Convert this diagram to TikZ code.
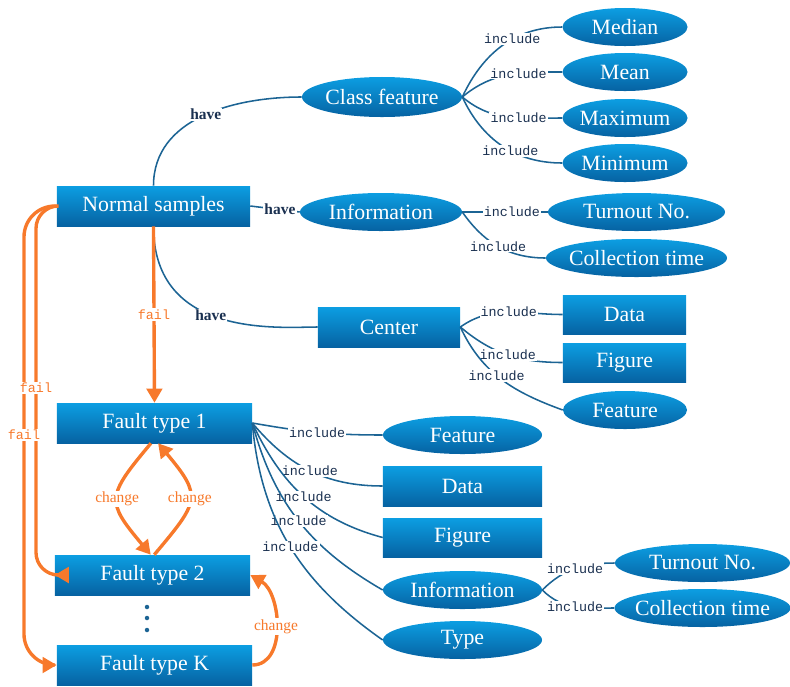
\documentclass[tikz,border=0pt]{standalone}
\usepackage{fontspec}
\setmainfont{LiberationSerif}[Extension=.ttf, UprightFont=*-Regular, BoldFont=*-Bold]
\newfontfamily\incfont{LiberationMono}[Extension=.ttf, UprightFont=*-Regular, BoldFont=*-Bold]
\usetikzlibrary{shapes.geometric,arrows.meta}
\definecolor{boxtop}{RGB}{12,158,226}
\definecolor{boxbot}{RGB}{6,98,162}
\definecolor{linkblue}{RGB}{28,100,148}
\definecolor{inkblue}{RGB}{26,48,80}
\definecolor{flame}{RGB}{247,121,43}
\newcommand{\ovaltext}[1]{\makebox[0pt]{#1}}

\begin{document}
\begin{tikzpicture}[x=0.025cm,y=0.025cm,
  box/.style={rectangle, top color=boxtop, bottom color=boxbot, text=white,
    font=\fontsize{15.5}{18}\selectfont, minimum height=1cm, inner sep=0pt},
  oval/.style={ellipse, top color=boxtop, bottom color=boxbot, text=white,
    font=\fontsize{15.5}{18}\selectfont, minimum height=0.95cm, inner sep=0pt},
  link/.style={draw=linkblue, line width=1.1pt},
  incl/.style={font=\incfont\fontsize{9.5}{11}\selectfont, text=inkblue, fill=white, inner sep=0.8pt},
  havetext/.style={font=\bfseries\fontsize{11}{13}\selectfont, text=inkblue, fill=white, inner sep=0.8pt},
  flow/.style={draw=flame, line width=2.4pt, -{Triangle[length=10pt,width=11pt]}},
  failtext/.style={font=\incfont\fontsize{9.5}{11}\selectfont, text=flame, fill=white, inner sep=0.8pt},
  changetext/.style={font=\fontsize{11}{13}\selectfont, text=flame, fill=white, inner sep=0.8pt}]
\path[use as bounding box] (0,0) rectangle (790,-686);

\node[box, minimum width=4.825cm] (ns) at (153.5,-206) {Normal samples};
\node[box, minimum width=4.875cm] (ft1) at (154.5,-423) {Fault type 1};
\node[box, minimum width=4.875cm] (ft2) at (152.5,-575) {Fault type 2};
\node[box, minimum width=4.875cm] (ftk) at (154.5,-665) {Fault type K};
\node[box, minimum width=3.55cm] (ctr) at (389,-327) {Center};
\node[box, minimum width=3.075cm, minimum height=0.975cm] (data1) at (624.5,-314.5) {Data};
\node[box, minimum width=3.075cm, minimum height=0.975cm] (fig1) at (624.5,-362.5) {Figure};
\node[box, minimum width=3.975cm] (data2) at (462.5,-486) {Data};
\node[box, minimum width=3.975cm, minimum height=0.975cm] (fig2) at (462.5,-537.5) {Figure};

\node[oval, minimum width=4cm, minimum height=1cm] (cf) at (382,-97) {\ovaltext{Class feature}};
\node[oval, minimum width=3.125cm] (med) at (625,-27) {\ovaltext{Median}};
\node[oval, minimum width=3.125cm] (mean) at (625,-72) {\ovaltext{Mean}};
\node[oval, minimum width=3.125cm] (max) at (625,-118) {\ovaltext{Maximum}};
\node[oval, minimum width=3.125cm] (min) at (625,-163) {\ovaltext{Minimum}};
\node[oval, minimum width=4.05cm] (inf1) at (381,-212) {\ovaltext{Information}};
\node[oval, minimum width=4.425cm] (tn1) at (636.5,-212) {\ovaltext{Turnout No.}};
\node[oval, minimum width=4.525cm] (ct1) at (636.5,-258) {\ovaltext{Collection time}};
\node[oval, minimum width=3.1cm] (fe1) at (625,-410) {\ovaltext{Feature}};
\node[oval, minimum width=3.975cm] (fe2) at (462.5,-435) {\ovaltext{Feature}};
\node[oval, minimum width=3.975cm] (inf2) at (462.5,-590) {\ovaltext{Information}};
\node[oval, minimum width=3.975cm] (ty) at (462.5,-640) {\ovaltext{Type}};
\node[oval, minimum width=4.375cm] (tn2) at (702.5,-563) {\ovaltext{Turnout No.}};
\node[oval, minimum width=4.4cm] (ct2) at (702.5,-608) {\ovaltext{Collection time}};

\draw[link] (ns.north) to[out=90,in=180] node[havetext,pos=0.52] {have} (cf.west);
\draw[link] (ns.east) -- node[havetext,pos=0.6] {have} (inf1.west);
\draw[link] (ns.south) to[out=-90,in=180,out looseness=1.5,in looseness=0.5] node[havetext,pos=0.45] {have} (ctr.west);

\draw[link] (cf.east) to[out=65,in=180] node[incl,pos=0.6] {include} (med.west);
\draw[link] (cf.east) to[out=40,in=180] node[incl,pos=0.6] {include} (mean.west);
\draw[link] (cf.east) to[out=-40,in=180] node[incl,pos=0.6] {include} (max.west);
\draw[link] (cf.east) to[out=-65,in=180] node[incl,pos=0.58] {include} (min.west);

\draw[link] (inf1.east) -- node[incl,pos=0.58] {include} (tn1.west);
\draw[link] (inf1.east) to[out=-55,in=180] node[incl,pos=0.5] {include} (ct1.west);

\draw[link] (ctr.east) to[out=35,in=180] node[incl,pos=0.5] {include} (data1.west);
\draw[link] (ctr.east) to[out=-40,in=180] node[incl,pos=0.5] {include} (fig1.west);
\draw[link] (ctr.east) to[out=-65,in=160] node[incl,pos=0.45] {include} (fe1.west);

\draw[link] (ft1.east) to[out=-10,in=180] node[incl,pos=0.5] {include} (fe2.west);
\draw[link] (ft1.east) to[out=-50,in=180] node[incl,pos=0.5] {include} (data2.west);
\draw[link] (ft1.east) to[out=-65,in=165] node[incl,pos=0.5] {include} (fig2.west);
\draw[link] (ft1.east) to[out=-75,in=150] node[incl,pos=0.5] {include} (inf2.west);
\draw[link] (ft1.east) to[out=-85,in=145] node[incl,pos=0.5] {include} (ty.west);

\draw[link] (inf2.east) to[out=45,in=180] node[incl,pos=0.5] {include} (tn2.west);
\draw[link] (inf2.east) to[out=-45,in=180] node[incl,pos=0.5] {include} (ct2.west);

\draw[flow] (ns.south) -- node[failtext] {fail} (ft1.north);
\draw[flow, rounded corners=22pt] (ns.west) -| (24,-420) |- (ftk.west);
\draw[flow, rounded corners=16pt] (ns.west) -| (36,-420) |- (ft2.west);
\node[failtext] (fail2) at (36,-388) {fail};
\node[failtext] (failk) at (24,-435) {fail};

\draw[flow] (ft1.-100) to[out=-130,in=130,looseness=1.6] node[changetext] {change} (ft2.95);
\draw[flow] (ft2.85) to[out=50,in=-50,looseness=1.6] node[changetext] {change} (ft1.-80);
\draw[flow] (ftk.east) to[out=0,in=-30] node[changetext] {change} (ft2.east);

\foreach \dy in {607,618,630}
  \fill[linkblue] (147,-\dy) circle (1.6pt);
\end{tikzpicture}
\end{document}
